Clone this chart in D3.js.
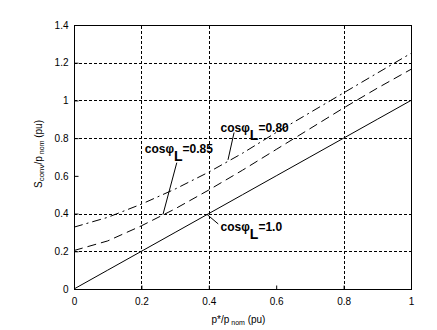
<!DOCTYPE html>
<html>
<head>
<meta charset="utf-8">
<script src="https://cdn.jsdelivr.net/npm/d3@7"></script>
<style>
  body { margin: 0; background: #fff; }
  text { font-family: "Liberation Sans", Arial, sans-serif; }
</style>
</head>
<body>
<svg id="chart"></svg>
<script>
const pRef = [0, 0.1, 0.2, 0.3, 0.4, 0.5, 0.6, 0.7, 0.8, 0.9, 1.0];
const sPf100 = [0, 0.1, 0.2, 0.3, 0.4, 0.5, 0.6, 0.7, 0.8, 0.9, 1.0];
const sPf085 = [0.204, 0.255, 0.335, 0.425, 0.525, 0.63, 0.74, 0.85, 0.96, 1.065, 1.165];
const sPf080 = [0.328, 0.38, 0.45, 0.53, 0.62, 0.72, 0.83, 0.935, 1.04, 1.145, 1.25];

const xTicks = [0, 0.2, 0.4, 0.6, 0.8, 1];
const yTicks = [0, 0.2, 0.4, 0.6, 0.8, 1, 1.2, 1.4];
const xGrid = [0.2, 0.4, 0.8];
const yGrid = [0.2, 0.4, 0.8, 1, 1.2];

// label text, label anchor (data coords), pointer start/end (data coords)
const labels = [
  { value: "=0.85", at: [0.21, 0.72], from: [0.305, 0.67], to: [0.264, 0.395] },
  { value: "=0.80", at: [0.435, 0.83], from: [0.475, 0.83], to: [0.457, 0.685] },
  { value: "=1.0", at: [0.435, 0.31], from: [0.428, 0.345], to: [0.395, 0.395] }
];

const width = 437;
const height = 330;
const margin = { top: 25, right: 26, bottom: 41, left: 74 };

const svg = d3.select("#chart").attr("width", width).attr("height", height);

const x = d3.scaleLinear().domain([0, 1]).range([margin.left, width - margin.right]);
const y = d3.scaleLinear().domain([0, 1.4]).range([height - margin.bottom, margin.top]);

// grid
svg.append("g")
  .selectAll("line")
  .data(xGrid)
  .enter()
  .append("line")
  .attr("x1", (d) => Math.round(x(d)) + 0.5)
  .attr("x2", (d) => Math.round(x(d)) + 0.5)
  .attr("y1", y(0))
  .attr("y2", y(1.4))
  .attr("stroke", "#000")
  .attr("stroke-dasharray", "3,2");

svg.append("g")
  .selectAll("line")
  .data(yGrid)
  .enter()
  .append("line")
  .attr("y1", (d) => Math.round(y(d)) + 0.5)
  .attr("y2", (d) => Math.round(y(d)) + 0.5)
  .attr("x1", x(0))
  .attr("x2", x(1))
  .attr("stroke", "#000")
  .attr("stroke-dasharray", "3,2");

// box
svg.append("rect")
  .attr("x", x(0) + 0.5)
  .attr("y", y(1.4) + 0.5)
  .attr("width", x(1) - x(0))
  .attr("height", y(0) - y(1.4))
  .attr("fill", "none")
  .attr("stroke", "#000");

// axes (ticks inside, no domain line)
const xAxis = d3.axisBottom(x).tickValues(xTicks).tickSizeInner(-4).tickSizeOuter(0)
  .tickPadding(8).tickFormat(d3.format("~g"));
const yAxis = d3.axisLeft(y).tickValues(yTicks).tickSizeInner(-4).tickSizeOuter(0)
  .tickPadding(6).tickFormat(d3.format("~g"));

const gx = svg.append("g").attr("transform", `translate(0,${y(0) + 0.5})`).call(xAxis);
const gy = svg.append("g").attr("transform", `translate(${x(0) + 0.5},0)`).call(yAxis);
[gx, gy].forEach((g) => {
  g.select(".domain").remove();
  g.selectAll("text").attr("font-size", 10).attr("fill", "#000")
    .style("font-family", "'Liberation Sans', Arial, sans-serif");
  g.selectAll("line").attr("stroke", "#000");
});

// curves
const line = d3.line().x((d) => x(d[0])).y((d) => y(d[1]));
const series = [
  { values: sPf100, dash: null },
  { values: sPf085, dash: "9,5" },
  { values: sPf080, dash: "9,4,2,4" }
];
svg.append("g")
  .selectAll("path")
  .data(series)
  .enter()
  .append("path")
  .attr("d", (s) => line(pRef.map((p, i) => [p, s.values[i]])))
  .attr("fill", "none")
  .attr("stroke", "#000")
  .attr("stroke-width", 1)
  .attr("stroke-dasharray", (s) => s.dash);

// annotations
const ann = svg.append("g");
labels.forEach((l) => {
  ann.append("line")
    .attr("x1", x(l.from[0])).attr("y1", y(l.from[1]))
    .attr("x2", x(l.to[0])).attr("y2", y(l.to[1]))
    .attr("stroke", "#000");
  const t = ann.append("text")
    .attr("x", x(l.at[0]))
    .attr("y", y(l.at[1]))
    .attr("font-size", 12)
    .attr("font-weight", "bold");
  t.append("tspan").text("cosφ");
  t.append("tspan").attr("dy", 8).attr("font-size", 14).text("L");
  t.append("tspan").attr("dy", -8).text(l.value);
});

// axis labels
const xl = svg.append("text")
  .attr("x", (x(0) + x(1)) / 2 - 4)
  .attr("y", 323)
  .attr("text-anchor", "middle")
  .attr("font-size", 10);
xl.append("tspan").text("p*/p");
xl.append("tspan").attr("font-size", 7).attr("dy", 2).text(" nom");
xl.append("tspan").attr("dy", -2).text("   (pu)");

const yl = svg.append("text")
  .attr("transform", `translate(42,${(y(0) + y(1.4)) / 2 - 3}) rotate(-90)`)
  .attr("text-anchor", "middle")
  .attr("font-size", 10);
yl.append("tspan").text("S");
yl.append("tspan").attr("font-size", 8).attr("dy", 2).text("conv");
yl.append("tspan").attr("dy", -2).text("/p");
yl.append("tspan").attr("font-size", 7).attr("dy", 2).text(" nom");
yl.append("tspan").attr("dy", -2).text(" (pu)");
</script>
</body>
</html>
